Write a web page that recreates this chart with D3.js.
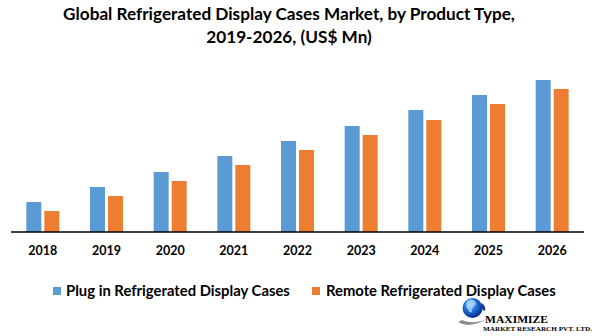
<!DOCTYPE html>
<html>
<head>
<meta charset="utf-8">
<script src="https://cdn.jsdelivr.net/npm/d3@7"></script>
<style>
  body { margin: 0; background: #fff; }
  svg { display: block; }
  text { font-family: Lato, 'Open Sans', sans-serif; font-weight: bold; fill: #000; }
</style>
</head>
<body>
<div id="chart"></div>
<script>
// chart data (US$ Mn)
const years = ['2018', '2019', '2020', '2021', '2022', '2023', '2024', '2025', '2026'];
const seriesNames = ['Plug in Refrigerated Display Cases', 'Remote Refrigerated Display Cases'];
const plugIn = [300, 450, 600, 760, 910, 1060, 1220, 1370, 1520];
const remote = [210, 360, 510, 670, 820, 970, 1120, 1280, 1430];
const titleLines = ['Global Refrigerated Display Cases Market, by Product Type,', '2019-2026, (US$ Mn)'];

const width = 601;
const height = 336;
const colors = ['#5b9bd5', '#ed7d31'];

const svg = d3.select('#chart').append('svg')
  .attr('width', width)
  .attr('height', height);

// fit a text element's font size so it spans roughly the target width
function fitText(sel, targetW, baseSize) {
  sel.style('font-size', baseSize + 'px');
  const w = sel.node().getComputedTextLength();
  sel.style('font-size', (baseSize * targetW / w).toFixed(2) + 'px');
}

// title
const t1 = svg.append('text').attr('x', 289).attr('y', 20).attr('text-anchor', 'middle').text(titleLines[0]);
fitText(t1, 452, 17);
const t2 = svg.append('text').attr('x', 289).attr('y', 42.5).attr('text-anchor', 'middle')
  .style('font-size', t1.style('font-size')).text(titleLines[1]);

// scales
const axisY = 232;
const x0 = d3.scaleBand().domain(years).range([11, 584]);
const x1 = d3.scaleBand().domain([0, 1]).range([-16.5, 16.5]).paddingInner(3 / 18);
const y = d3.scaleLinear().domain([0, 1700]).range([axisY, 62]);

const rows = years.map((yr, i) => ({ year: yr, vals: [plugIn[i], remote[i]] }));

const groups = svg.append('g').selectAll('g')
  .data(rows)
  .join('g')
  .attr('transform', d => `translate(${x0(d.year) + x0.bandwidth() / 2},0)`);

groups.selectAll('rect')
  .data(d => d.vals.map((v, k) => ({ k, v })))
  .join('rect')
  .attr('x', d => x1(d.k))
  .attr('width', x1.bandwidth())
  .attr('y', d => y(d.v))
  .attr('height', d => y(0) - y(d.v))
  .attr('fill', d => colors[d.k]);

// x axis
const xAxis = svg.append('g')
  .attr('transform', `translate(0,${axisY})`)
  .call(d3.axisBottom(x0).tickSize(0).tickPadding(14));
xAxis.select('.domain').attr('stroke', '#000').attr('stroke-width', 1.5).attr('d', 'M11,0H584');
xAxis.selectAll('text')
  .style('font-family', 'Lato, sans-serif')
  .style('font-weight', 'bold')
  .style('font-size', '12.5px')
  .attr('fill', '#000');

// legend
const legendItems = [{ x: 53, tx: 66, w: 224 }, { x: 312, tx: 326, w: 230 }];
const legend = svg.append('g');
seriesNames.forEach((name, k) => {
  const it = legendItems[k];
  legend.append('rect')
    .attr('x', it.x).attr('y', 287)
    .attr('width', 8).attr('height', 8)
    .attr('fill', colors[k]);
  const lt = legend.append('text').attr('x', it.tx).attr('y', 296).text(name);
  fitText(lt, it.w, 15);
});

// logo
const logo = svg.append('g');
const defs = svg.append('defs');
const grad = defs.append('radialGradient').attr('id', 'globe')
  .attr('cx', '40%').attr('cy', '35%').attr('r', '65%');
grad.append('stop').attr('offset', '0%').attr('stop-color', '#9fd0ff');
grad.append('stop').attr('offset', '50%').attr('stop-color', '#1f6fd6');
grad.append('stop').attr('offset', '100%').attr('stop-color', '#0a2a8a');

logo.append('path')
  .attr('d', 'M458,322 Q470,330 492,316 Q476,326 462,320 Z')
  .attr('fill', '#8c8c8c');
logo.append('circle').attr('cx', 472.5).attr('cy', 308).attr('r', 10).attr('fill', 'url(#globe)');
logo.append('path')
  .attr('d', 'M467,301 q4,-3 8,0 q2,3 -1,5 q-3,2 -2,6 q-3,1 -4,-3 q-3,-3 -1,-8 Z')
  .attr('fill', '#a8d8ff').attr('opacity', 0.8);
logo.append('path')
  .attr('d', 'M482,303 q4,3 3,8 q-3,-1 -4,-4 Z')
  .attr('fill', '#1a3a9a');
logo.append('text')
  .attr('x', 485).attr('y', 322.5)
  .style('font-family', "'Liberation Serif', 'DejaVu Serif', serif")
  .style('font-size', '11px')
  .attr('fill', '#3b3b9c')
  .attr('textLength', 63).attr('lengthAdjust', 'spacingAndGlyphs')
  .text('MAXIMIZE');
logo.append('text')
  .attr('x', 483).attr('y', 330.5)
  .style('font-family', "'Liberation Serif', 'DejaVu Serif', serif")
  .style('font-size', '5.5px')
  .attr('fill', '#3b3b9c')
  .attr('textLength', 109).attr('lengthAdjust', 'spacingAndGlyphs')
  .text('MARKET RESEARCH PVT. LTD.');
</script>
</body>
</html>
